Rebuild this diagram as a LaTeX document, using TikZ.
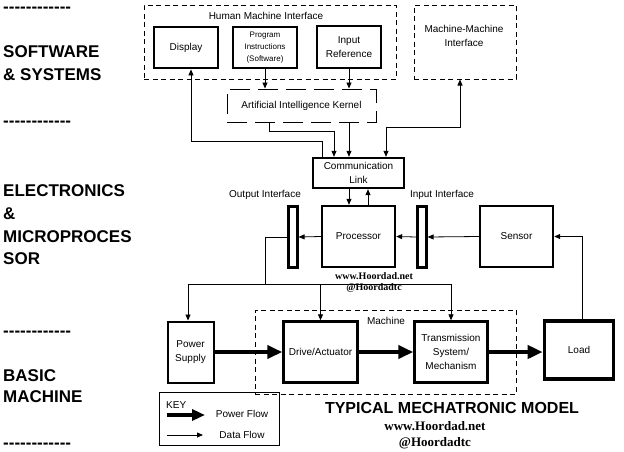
\documentclass[tikz,border=0pt]{standalone}
\usepackage{fontspec}
\setmainfont{Liberation Sans}
\newfontfamily\wmfont{Liberation Serif}
\usetikzlibrary{arrows.meta,calc}
\newcommand{\dashrow}{-{}-{}-{}-{}-{}-{}-{}-{}-{}-{}-{}-}
\begin{document}
\begin{tikzpicture}[x=1pt,y=-1pt,
  box/.style={draw, line width=2.4pt, inner sep=0pt, align=center, font=\fontsize{10}{14}\selectfont},
  dbox/.style={draw, line width=1pt, dash pattern=on 5pt off 3.5pt, inner sep=0pt},
  data/.style={draw, line width=0.8pt, -{Triangle[length=6pt,width=5pt]}},
  power/.style={draw, line width=4pt, -{Triangle[length=15pt,width=13pt]}},
  side/.style={anchor=west, inner sep=0pt, font=\fontsize{17}{17}\selectfont\bfseries},
  lbl/.style={inner sep=0pt, align=center, font=\fontsize{10}{14}\selectfont},
  wm/.style={inner sep=0pt, font=\fontsize{13}{13}\selectfont\wmfont\bfseries},
  wms/.style={inner sep=0pt, font=\fontsize{10}{10}\selectfont\wmfont\bfseries}
]
\useasboundingbox[fill=white] (0,0) rectangle (624,451);

% left side labels
\node[side] (d1) at (3,9.5) {\dashrow};
\node[side] (s1) at (3,52) {SOFTWARE};
\node[side] (s2) at (3,75) {\& SYSTEMS};
\node[side] (d2) at (3,123.5) {\dashrow};
\node[side] (e1) at (3,191) {ELECTRONICS};
\node[side] (e2) at (3,214) {\&};
\node[side] (e3) at (3,237) {MICROPROCES};
\node[side] (e4) at (3,259) {SOR};
\node[side] (d3) at (3,333.5) {\dashrow};
\node[side] (b1) at (3,376) {BASIC};
\node[side] (b2) at (3,397) {MACHINE};
\node[side] (d4) at (3,446) {\dashrow};

% software layer
\node[dbox, minimum width=252pt, minimum height=74pt] (hmi) at (270,42) {};
\node[lbl] (hmil) at (266,16) {Human Machine Interface};
\node[box, line width=2.8pt, minimum width=64pt, minimum height=41pt] (disp) at (186,47.5) {Display};
\node[box, line width=2.8pt, minimum width=64pt, minimum height=41pt, font=\fontsize{8}{12}\selectfont] (prog) at (265,47.5) {Program\\Instructions\\(Software)};
\node[box, line width=2.8pt, minimum width=64pt, minimum height=42pt] (iref) at (349,47) {Input\\Reference};
\node[dbox, minimum width=102pt, minimum height=74pt] (mmi) at (465,42) {};
\node[lbl] (mmil) at (464,36) {Machine-Machine\\Interface};
\node[draw, line width=1pt, dash pattern=on 20pt off 8pt, minimum width=149pt, minimum height=33pt, inner sep=0pt, font=\fontsize{10}{14}\selectfont] (ai) at (301.5,105.5) {Artificial Intelligence Kernel};

% electronics layer
\node[box, minimum width=91pt, minimum height=30pt] (comm) at (358.5,173) {Communication\\Link};
\node[box, minimum width=73pt, minimum height=61pt] (proc) at (358.5,236.5) {Processor};
\node[box, line width=2.2pt, minimum width=9pt, minimum height=61pt] (outif) at (293,237) {};
\node[lbl, anchor=south] (outifl) at (265,200) {Output Interface};
\node[box, line width=2.2pt, minimum width=9pt, minimum height=61pt] (inif) at (422,237) {};
\node[lbl, anchor=south] (inifl) at (442,200) {Input Interface};
\node[box, minimum width=73pt, minimum height=61pt] (sens) at (516.5,236.5) {Sensor};

% machine layer
\node[dbox, minimum width=261pt, minimum height=84pt] (mach) at (385.5,352) {};
\node[lbl] (machl) at (386,321) {Machine};
\node[box, line width=2pt, minimum width=46pt, minimum height=61pt] (ps) at (190.5,352) {Power\\Supply};
\node[box, minimum width=74pt, minimum height=61pt] (drive) at (320.5,352) {Drive/Actuator};
\node[box, minimum width=73pt, minimum height=61pt] (trans) at (451,352) {Transmission\\System/\\Mechanism};
\node[box, line width=3.6pt, minimum width=69pt, minimum height=58pt] (load) at (579,350) {Load};

% key
\node[draw, line width=0.8pt, minimum width=120pt, minimum height=53pt, inner sep=0pt] (key) at (219,418.5) {};
\node[lbl, anchor=west] (keyl) at (166,405) {KEY};
\coordinate (kp1) at (167,415);
\coordinate (kp2) at (205,415);
\coordinate (kd1) at (167,435);
\coordinate (kd2) at (203,435);
\draw[power, line width=3.5pt, -{Triangle[length=13pt,width=11pt]}] (kp1) -- (kp2);
\draw[data] (kd1) -- (kd2);
\node[lbl] (pfl) at (242,414) {Power Flow};
\node[lbl] (dfl) at (242,435) {Data Flow};

% title and watermarks
\node[inner sep=0pt, font=\fontsize{16}{16}\selectfont\bfseries] (title) at (452,408) {TYPICAL MECHATRONIC MODEL};
\node[wm] (wm1) at (435,426) {www.Hoordad.net};
\node[wm] (wm2) at (435,443) {@Hoordadtc};
\node[wms] (wm3) at (374,276) {www.Hoordad.net};
\node[wms] (wm4) at (374,288) {@Hoordadtc};

% data connectors: software
\draw[data] (prog.south) -- (prog.south |- ai.north);
\draw[data] (iref.south) -- (iref.south |- ai.north);
\draw[data] (ai.south -| 269,0) -- ++(0,9) -| (comm.north -| 334,0);
\draw[data] (ai.south -| 349,0) -- (comm.north -| 349,0);
\draw[data] (comm.north -| 322,0) -- ++(0,-15) -| (disp.south -| 191,0);
\draw[data, {Triangle[length=6pt,width=5pt]}-{Triangle[length=6pt,width=5pt]}] (comm.north -| 386,0) -- ++(0,-29) -| (mmi.south -| 460,0);

% electronics
\draw[data] (comm.south -| 349,0) -- (proc.north -| 349,0);
\draw[data] (proc.north -| 368,0) -- (comm.south -| 368,0);
\draw[data] (sens.west) -- (inif.east);
\draw[data] (inif.west) -- (proc.east);
\draw[data] (proc.west) -- (outif.east);
\coordinate (bus) at (265,284);
\draw[line width=0.8pt] (outif.west) -| (bus);
\draw[data] (bus) -| (ps.north -| 188,0);
\draw[data] (bus) -| (drive.north);
\draw[data] (bus) -| (trans.north);
\draw[data] (load.north -| 582,0) |- (sens.east);

% power flow
\draw[power] (ps.east) -- (drive.west);
\draw[power] (drive.east) -- (trans.west);
\draw[power] (trans.east) -- (trans.east -| load.west);
\end{tikzpicture}
\end{document}
